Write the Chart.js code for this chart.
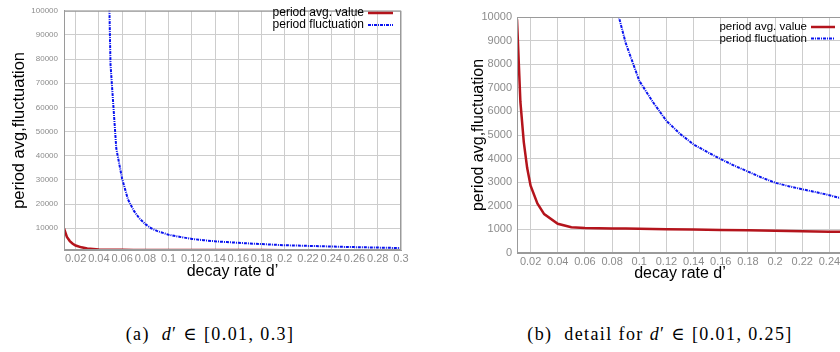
<!DOCTYPE html>
<html>
<head>
<meta charset="utf-8">
<script src="https://cdn.jsdelivr.net/npm/chart.js@4"></script>
<style>
  html, body { margin: 0; padding: 0; background: #fff; overflow: hidden; width: 840px; height: 352px; }
  #boxA { position: absolute; left: 0; top: 0; }
  #boxB { position: absolute; left: 420px; top: 0; }
  .cap { position: absolute; top: 323px; font-family: "Liberation Serif", "DejaVu Serif", serif; font-size: 18px;
         letter-spacing: 1.4px; white-space: nowrap; transform: translateX(-50%); color: #000; }
</style>
</head>
<body>
<canvas id="boxA" width="420" height="300"></canvas>
<canvas id="boxB" width="440" height="300"></canvas>
<div class="cap" style="left:210px">(a)&nbsp; <i>d</i>′ ∈ [0.01, 0.3]</div>
<div class="cap" style="left:660px">(b)&nbsp; detail for <i>d</i>′ ∈ [0.01, 0.25]</div>
<script>
// decay rate d' samples and the two measured curves
const avgRates = [0.01, 0.0125, 0.015, 0.0175, 0.02, 0.025, 0.03, 0.04, 0.05, 0.06, 0.07, 0.08, 0.09, 0.1,
  0.12, 0.14, 0.16, 0.18, 0.2, 0.22, 0.24, 0.25, 0.26, 0.27, 0.28, 0.29, 0.3];
const avgValue = [9900, 6400, 4700, 3600, 2850, 2100, 1650, 1240, 1090, 1060, 1050, 1040, 1035, 1030,
  1010, 995, 975, 960, 940, 925, 905, 900, 890, 880, 870, 860, 850];

const fluctRates = [0.045, 0.05, 0.055, 0.06, 0.065, 0.07, 0.075, 0.08, 0.085, 0.09, 0.1, 0.11, 0.12, 0.13,
  0.14, 0.15, 0.16, 0.17, 0.18, 0.19, 0.2, 0.21, 0.22, 0.23, 0.24, 0.25, 0.26, 0.27, 0.28, 0.29, 0.3];
const fluctuation = [200000, 78000, 43000, 30500, 22000, 17300, 14000, 11700, 10000, 8900, 7300, 6400, 5600, 5050,
  4600, 4280, 3980, 3700, 3450, 3200, 2980, 2830, 2700, 2580, 2450, 2300, 2200, 2100, 2000, 1900, 1800];

const seriesNames = ['period avg. value', 'period fluctuation'];
const xTitle = 'decay rate d’';
const yTitle = 'period avg,fluctuation';

const xTicksA = [0.02, 0.04, 0.06, 0.08, 0.1, 0.12, 0.14, 0.16, 0.18, 0.2, 0.22, 0.24, 0.26, 0.28, 0.3];
const yTicksA = [10000, 20000, 30000, 40000, 50000, 60000, 70000, 80000, 90000, 100000];
const xTicksB = [0.02, 0.04, 0.06, 0.08, 0.1, 0.12, 0.14, 0.16, 0.18, 0.2, 0.22, 0.24];
const yTicksB = [0, 1000, 2000, 3000, 4000, 5000, 6000, 7000, 8000, 9000, 10000];

const FONT = '"Liberation Sans", Arial, sans-serif';
const RED = '#b4141c';
const BLUE = '#0a14f0';

const pts = (xs, ys) => xs.map((x, i) => ({ x, y: ys[i] }));

// gnuplot-like frame and key (text first, sample line to its right)
const gnuKey = {
  id: 'gnuKey',
  afterDraw(chart, args, o) {
    const { ctx, chartArea: a } = chart;
    ctx.save();
    ctx.strokeStyle = '#9a9a9a';
    ctx.lineWidth = 1;
    ctx.strokeRect(a.left + 0.5, a.top + 0.5, a.right - a.left - 1, a.bottom - a.top - 1);
    ctx.font = o.size + 'px ' + FONT;
    ctx.textAlign = 'right';
    ctx.textBaseline = 'middle';
    chart.data.datasets.forEach((ds, i) => {
      const y = o.y + i * o.gap;
      ctx.fillStyle = '#000';
      ctx.fillText(ds.label, o.right, y);
      ctx.strokeStyle = ds.borderColor;
      ctx.lineWidth = ds.borderWidth;
      ctx.setLineDash(ds.borderDash || []);
      ctx.beginPath();
      ctx.moveTo(o.right + 4, y);
      ctx.lineTo(o.right + 4 + o.len, y);
      ctx.stroke();
    });
    ctx.restore();
  }
};

function makeChart(id, cfg) {
  const tickFmt = v => String(+Number(v).toFixed(2));
  return new Chart(document.getElementById(id), {
    type: 'line',
    data: {
      datasets: [
        { label: seriesNames[0], data: pts(avgRates, avgValue), borderColor: RED, borderWidth: 2.5,
          pointRadius: 0, tension: 0, fill: false },
        { label: seriesNames[1], data: pts(fluctRates, fluctuation), borderColor: BLUE, borderWidth: 2,
          borderDash: [3, 1, 1, 1], pointRadius: 0, tension: 0, fill: false },
      ],
    },
    plugins: [gnuKey],
    options: {
      responsive: false,
      animation: false,
      layout: { padding: cfg.padding },
      plugins: {
        legend: { display: false },
        tooltip: { enabled: false },
        gnuKey: cfg.key,
      },
      scales: {
        x: {
          type: 'linear',
          min: cfg.xMin,
          max: cfg.xMax,
          afterBuildTicks: s => { s.ticks = cfg.xTicks.map(v => ({ value: v })); },
          afterFit: s => { s.height = cfg.xHeight; },
          ticks: { font: { family: FONT, size: cfg.xTickSize }, color: '#8c8c8c', padding: 2,
                   autoSkip: false, maxRotation: 0, callback: tickFmt },
          grid: { color: '#cdcdcd', drawTicks: false },
          border: { color: '#9a9a9a' },
          title: { display: true, text: xTitle, color: '#000', font: { family: FONT, size: 16 },
                   padding: { top: 0, bottom: cfg.xTitlePad } },
        },
        y: {
          min: cfg.yMin,
          max: cfg.yMax,
          afterBuildTicks: s => { s.ticks = cfg.yTicks.map(v => ({ value: v })); },
          afterFit: s => { s.width = cfg.yWidth; },
          ticks: { font: { family: FONT, size: cfg.yTickSize }, color: '#8c8c8c', padding: cfg.yTickPad,
                   callback: v => String(v) },
          grid: { color: '#cdcdcd', drawTicks: false },
          border: { color: '#9a9a9a' },
          title: { display: true, text: yTitle, color: '#000', font: { family: FONT, size: cfg.yTitleSize },
                   padding: { top: cfg.yTitlePad, bottom: 0 } },
        },
      },
    },
  });
}

makeChart('boxA', {
  padding: { left: 0, top: 3, right: 19, bottom: 0 },
  xMin: 0.01, xMax: 0.3, xTicks: xTicksA, xHeight: 50, xTickSize: 11, xTitlePad: 19,
  yMin: 1000, yMax: 100000, yTicks: yTicksA, yWidth: 64, yTickSize: 8, yTickPad: 6,
  yTitleSize: 16.5, yTitlePad: 10,
  key: { right: 364, y: 13, gap: 12, size: 12, len: 25 },
});

makeChart('boxB', {
  padding: { left: 45, top: 17, right: 17, bottom: 0 },
  xMin: 0.01, xMax: 0.25, xTicks: xTicksB, xHeight: 47, xTickSize: 11, xTitlePad: 17,
  yMin: 0, yMax: 10000, yTicks: yTicksB, yWidth: 52, yTickSize: 11, yTickPad: 5,
  yTitleSize: 16, yTitlePad: 4,
  key: { right: 387, y: 27, gap: 11.5, size: 11.5, len: 24 },
});
</script>
</body>
</html>
